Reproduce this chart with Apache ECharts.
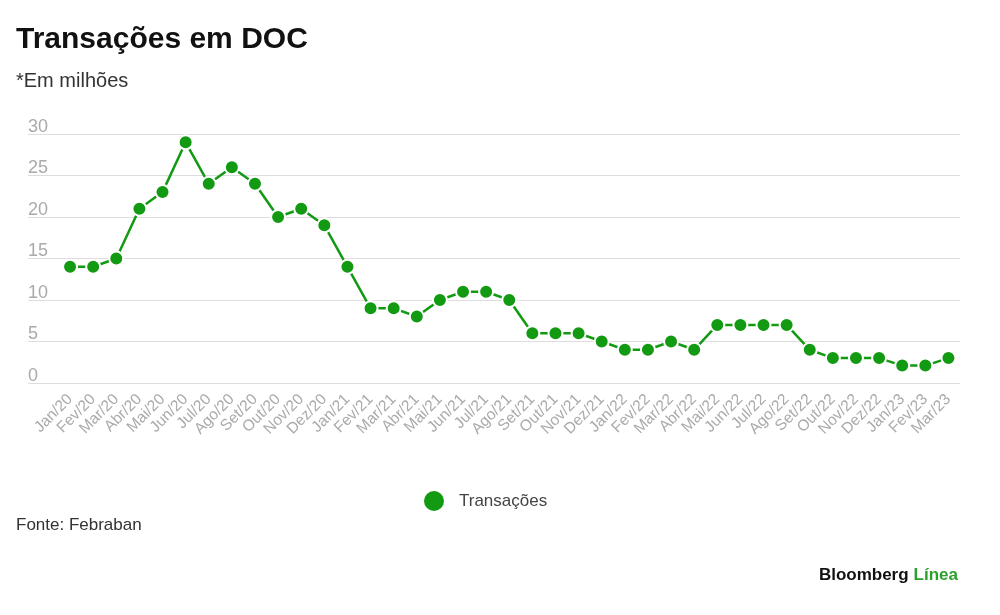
<!DOCTYPE html>
<html>
<head>
<meta charset="utf-8">
<script src="https://cdn.jsdelivr.net/npm/echarts@6/dist/echarts.min.js"></script>
<style>
  html, body { margin: 0; padding: 0; background: #fff; }
  #chart { width: 1000px; height: 615px; }
</style>
</head>
<body>
<div id="chart"></div>
<script>
// meses (eixo x)
var months = ['Jan/20','Fev/20','Mar/20','Abr/20','Mai/20','Jun/20','Jul/20','Ago/20','Set/20','Out/20','Nov/20','Dez/20',
              'Jan/21','Fev/21','Mar/21','Abr/21','Mai/21','Jun/21','Jul/21','Ago/21','Set/21','Out/21','Nov/21','Dez/21',
              'Jan/22','Fev/22','Mar/22','Abr/22','Mai/22','Jun/22','Jul/22','Ago/22','Set/22','Out/22','Nov/22','Dez/22',
              'Jan/23','Fev/23','Mar/23'];
// transações em milhões
var transacoes = [14, 14, 15, 21, 23, 29, 24, 26, 24, 20, 21, 19,
                  14, 9, 9, 8, 10, 11, 11, 10, 6, 6, 6, 5,
                  4, 4, 5, 4, 7, 7, 7, 7, 4, 3, 3, 3,
                  2.1, 2.1, 3];
var yTicks = [0, 5, 10, 15, 20, 25, 30];

var green = '#129a12';
var font = 'Liberation Sans';

var chart = echarts.init(document.getElementById('chart'));
var option = {
    backgroundColor: '#fff',
    textStyle: { fontFamily: font },
    title: [
        {
            text: 'Transações em DOC',
            left: 11, top: 20,
            textStyle: { fontSize: 30, fontWeight: 'bold', color: '#111', fontFamily: font }
        },
        {
            text: '*Em milhões',
            left: 11, top: 66,
            textStyle: { fontSize: 20, fontWeight: 'normal', color: '#333', fontFamily: font }
        },
        {
            text: 'Fonte: Febraban',
            left: 11, top: 512,
            textStyle: { fontSize: 17, fontWeight: 'normal', color: '#333', fontFamily: font }
        },
        {
            text: '{a|Bloomberg} {b|Línea}',
            right: 37, top: 561,
            textStyle: {
                rich: {
                    a: { fontSize: 17, fontWeight: 'bold', color: '#111', fontFamily: font },
                    b: { fontSize: 17, fontWeight: 'bold', color: '#2ca02c', fontFamily: font }
                }
            }
        }
    ],
    legend: {
        left: 417, top: 484,
        icon: 'circle',
        itemWidth: 22, itemHeight: 22,
        textStyle: { fontSize: 17, color: '#444', fontFamily: font, padding: [0, 0, 0, 9] },
        data: ['Transações']
    },
    grid: [
        { left: 28, right: 40, top: 134, bottom: 232 },
        { left: 58.5, right: 40, top: 134, bottom: 232 }
    ],
    xAxis: [
        { gridIndex: 0, type: 'category', data: months, show: false },
        {
            gridIndex: 1, type: 'category', data: months,
            boundaryGap: true,
            axisLine: { show: false },
            axisTick: { show: false },
            axisLabel: { rotate: 45, interval: 0, color: '#aaa', fontSize: 15.5, margin: 14, fontFamily: font }
        }
    ],
    yAxis: [
        {
            gridIndex: 0, type: 'value', min: 0, max: 30, interval: 5,
            axisLine: { show: false },
            axisTick: { show: false },
            splitLine: { lineStyle: { color: '#ddd', width: 1 } },
            axisLabel: {
                inside: true, margin: 0, color: '#aaa', fontSize: 18,
                verticalAlign: 'bottom', padding: [0, 0, -2, 0], fontFamily: font,
                formatter: function (v) { return yTicks.indexOf(v) >= 0 ? String(v) : ''; }
            }
        },
        { gridIndex: 1, type: 'value', min: 0, max: 30, interval: 5, show: false }
    ],
    series: [
        {
            name: 'Transações',
            type: 'line',
            xAxisIndex: 1, yAxisIndex: 1,
            data: transacoes,
            symbol: 'circle',
            symbolSize: 14,
            lineStyle: { color: green, width: 2.5 },
            itemStyle: { color: green, borderColor: '#fff', borderWidth: 2 },
            animation: false
        }
    ]
};
chart.setOption(option, true);
</script>
</body>
</html>
